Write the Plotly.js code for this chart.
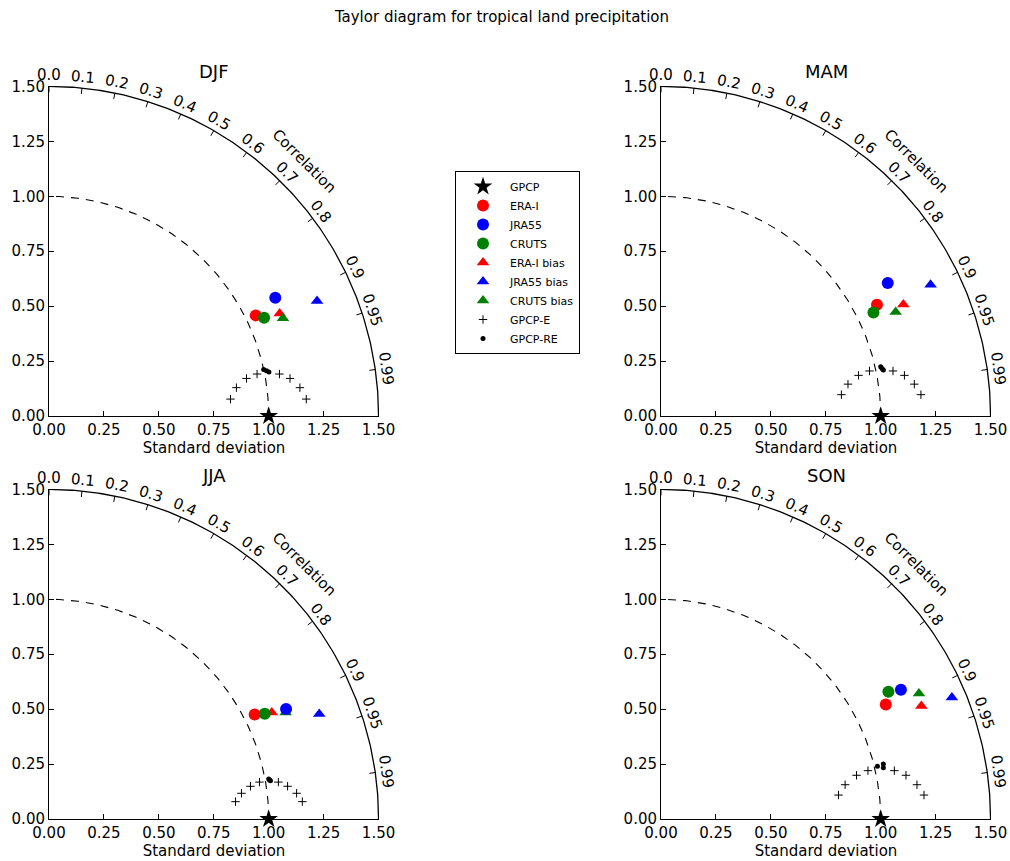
<!DOCTYPE html>
<html>
<head>
<meta charset="utf-8">
<script src="https://cdn.plot.ly/plotly-3.0.1.min.js"></script>
<style>html,body{margin:0;padding:0;background:#fff;}#chart{width:1010px;height:861px;}</style>
</head>
<body>
<div id="chart"></div>
<script>
// ---- data ----
const seasons = ['DJF', 'MAM', 'JJA', 'SON'];
const corrTicks = [0.0, 0.1, 0.2, 0.3, 0.4, 0.5, 0.6, 0.7, 0.8, 0.9, 0.95, 0.99];
const stdTicks = [0.0, 0.25, 0.5, 0.75, 1.0, 1.25, 1.5];
const refStd = 1.0;

// Cartesian positions (x = std*corr, y = std*sqrt(1-corr^2)) per season
const eraX = [0.941, 0.983, 0.936, 1.023];
const eraY = [0.458, 0.506, 0.476, 0.521];
const jraX = [1.030, 1.032, 1.079, 1.092];
const jraY = [0.538, 0.605, 0.501, 0.588];
const crutsX = [0.979, 0.967, 0.982, 1.035];
const crutsY = [0.447, 0.471, 0.479, 0.579];
const eraBiasX = [1.050, 1.103, 1.014, 1.185];
const eraBiasY = [0.467, 0.508, 0.485, 0.514];
const jraBiasX = [1.220, 1.227, 1.230, 1.324];
const jraBiasY = [0.523, 0.597, 0.478, 0.553];
const crutsBiasX = [1.065, 1.068, 1.077, 1.174];
const crutsBiasY = [0.445, 0.473, 0.485, 0.571];

const gpcpEX = [
  [0.826, 0.853, 0.899, 0.947, 1.049, 1.097, 1.142, 1.171],
  [0.821, 0.851, 0.899, 0.949, 1.056, 1.108, 1.153, 1.183],
  [0.849, 0.876, 0.917, 0.958, 1.044, 1.086, 1.127, 1.153],
  [0.808, 0.838, 0.890, 0.942, 1.062, 1.115, 1.165, 1.197]
];
const gpcpEY = [
  [0.077, 0.129, 0.171, 0.191, 0.191, 0.171, 0.129, 0.077],
  [0.097, 0.145, 0.185, 0.205, 0.205, 0.185, 0.145, 0.097],
  [0.079, 0.117, 0.149, 0.168, 0.168, 0.149, 0.117, 0.079],
  [0.109, 0.156, 0.199, 0.220, 0.220, 0.199, 0.156, 0.109]
];
const gpcpREX = [
  [0.977, 0.990, 1.001],
  [1.000, 1.006, 1.012],
  [1.000, 1.004, 1.008],
  [0.985, 1.012, 1.012]
];
const gpcpREY = [
  [0.212, 0.206, 0.200],
  [0.224, 0.216, 0.209],
  [0.182, 0.178, 0.174],
  [0.240, 0.250, 0.233]
];

// ---- layout geometry ----
const FONT = 'DejaVu Sans, sans-serif';
const xDomains = [[0.04851, 0.37525], [0.65446, 0.98119], [0.04851, 0.37525], [0.65446, 0.98119]];
const yDomains = [[0.51684, 0.90012], [0.51684, 0.90012], [0.04878, 0.43206], [0.04878, 0.43206]];
const RMAX = 1.5;
const AXMAX = 1.502;

const RED = '#ff0000', BLUE = '#0000ff', GREEN = '#008000';

function arc(r, n) {
  const xs = [], ys = [];
  for (let i = 0; i <= n; i++) {
    const t = (Math.PI / 2) * i / n;
    xs.push(r * Math.cos(t)); ys.push(r * Math.sin(t));
  }
  return {xs, ys};
}

const traces = [];
const annotations = [];
const layout = {
  width: 1010, height: 861,
  margin: {l: 0, r: 0, t: 0, b: 0},
  paper_bgcolor: '#ffffff', plot_bgcolor: 'rgba(0,0,0,0)',
  font: {family: FONT, size: 15, color: '#000'},
  title: {text: 'Taylor diagram for tropical land precipitation', x: 0.497, xanchor: 'center',
          y: 1 - 17 / 861, yanchor: 'middle', font: {family: FONT, size: 15, color: '#000'}},
  showlegend: true,
  legend: {x: 455 / 1010, xanchor: 'left', y: 1 - 171 / 861, yanchor: 'top',
           bordercolor: '#000', borderwidth: 1, bgcolor: '#fff',
           font: {family: FONT, size: 11, color: '#000'}, tracegroupgap: 0,
           itemsizing: 'trace', itemwidth: 44},
  annotations: annotations
};

seasons.forEach((s, k) => {
  const xa = k === 0 ? 'x' : 'x' + (k + 1);
  const ya = k === 0 ? 'y' : 'y' + (k + 1);
  const xk = k === 0 ? 'xaxis' : 'xaxis' + (k + 1);
  const yk = k === 0 ? 'yaxis' : 'yaxis' + (k + 1);
  const xd = xDomains[k], yd = yDomains[k];
  const px = v => xd[0] + (v / AXMAX) * (xd[1] - xd[0]);
  const py = v => yd[0] + (v / AXMAX) * (yd[1] - yd[0]);
  const axBase = {
    range: [0, AXMAX], showgrid: false, zeroline: false, showline: true,
    linecolor: '#000', linewidth: 1, mirror: false, ticks: 'inside', ticklen: 5,
    tickwidth: 1, tickcolor: '#000', tickvals: stdTicks,
    ticktext: stdTicks.map(v => v.toFixed(2)),
    tickfont: {family: FONT, size: 15, color: '#000'}, fixedrange: true
  };
  layout[xk] = Object.assign({}, axBase, {
    domain: xd, anchor: ya,
    title: {text: 'Standard deviation', font: {family: FONT, size: 15, color: '#000'}, standoff: 4}
  });
  layout[yk] = Object.assign({}, axBase, {domain: yd, anchor: xa});

  // outer arc
  const a1 = arc(RMAX, 200);
  traces.push({type: 'scatter', mode: 'lines', x: a1.xs, y: a1.ys, xaxis: xa, yaxis: ya,
    line: {color: '#000', width: 1.3}, showlegend: false, hoverinfo: 'skip'});
  // reference std dashed arc
  const a2 = arc(refStd, 200);
  traces.push({type: 'scatter', mode: 'lines', x: a2.xs, y: a2.ys, xaxis: xa, yaxis: ya,
    line: {color: '#000', width: 1.1, dash: '8px,7px'}, showlegend: false, hoverinfo: 'skip'});
  // correlation ticks
  const tx = [], ty = [];
  corrTicks.forEach(c => {
    const t = Math.acos(c);
    tx.push(RMAX * Math.cos(t), (RMAX - 0.027) * Math.cos(t), null);
    ty.push(RMAX * Math.sin(t), (RMAX - 0.027) * Math.sin(t), null);
  });
  traces.push({type: 'scatter', mode: 'lines', x: tx, y: ty, xaxis: xa, yaxis: ya,
    line: {color: '#000', width: 1}, showlegend: false, hoverinfo: 'skip'});
  // correlation tick labels (placed in paper coordinates so they sit outside the axes box)
  corrTicks.forEach(c => {
    const t = Math.acos(c);
    const rl = RMAX + 0.05;
    annotations.push({xref: 'paper', yref: 'paper', x: px(rl * Math.cos(t)), y: py(rl * Math.sin(t)),
      text: c === 0 ? '0.0' : String(c), showarrow: false, textangle: 90 - t * 180 / Math.PI,
      xanchor: 'center', yanchor: 'middle', font: {family: FONT, size: 15, color: '#000'}});
  });
  annotations.push({xref: 'paper', yref: 'paper', x: px(1.642 * Math.cos(Math.PI / 4)),
    y: py(1.642 * Math.sin(Math.PI / 4)),
    text: 'Correlation', showarrow: false, textangle: 45, xanchor: 'center', yanchor: 'middle',
    font: {family: FONT, size: 15, color: '#000'}});
  // panel title
  annotations.push({xref: 'paper', yref: 'paper', x: (xd[0] + xd[1]) / 2,
    y: k < 2 ? 1 - 72 / 861 : 1 - 475 / 861, text: s, showarrow: false,
    xanchor: 'center', yanchor: 'middle', font: {family: FONT, size: 18, color: '#000'}});

  const show = k === 0;
  const mk = (name, x, y, marker, rank) => ({
    type: 'scatter', mode: 'markers', name: name, x: x, y: y, xaxis: xa, yaxis: ya,
    marker: marker, cliponaxis: false, showlegend: show, legendgroup: name, legendrank: rank,
    hoverinfo: 'name+x+y'
  });
  traces.push(mk('GPCP-E', gpcpEX[k], gpcpEY[k],
    {symbol: 'cross-thin', size: 6, color: '#000', line: {color: '#000', width: 1}}, 8));
  traces.push(mk('GPCP-RE', gpcpREX[k], gpcpREY[k], {symbol: 'circle', size: 5, color: '#000'}, 9));
  traces.push(mk('ERA-I bias', [eraBiasX[k]], [eraBiasY[k]], {symbol: 'triangle-up', size: 11, color: RED}, 5));
  traces.push(mk('JRA55 bias', [jraBiasX[k]], [jraBiasY[k]], {symbol: 'triangle-up', size: 11, color: BLUE}, 6));
  traces.push(mk('CRUTS bias', [crutsBiasX[k]], [crutsBiasY[k]], {symbol: 'triangle-up', size: 11, color: GREEN}, 7));
  traces.push(mk('ERA-I', [eraX[k]], [eraY[k]], {symbol: 'circle', size: 12, color: RED}, 2));
  traces.push(mk('JRA55', [jraX[k]], [jraY[k]], {symbol: 'circle', size: 12, color: BLUE}, 3));
  traces.push(mk('CRUTS', [crutsX[k]], [crutsY[k]], {symbol: 'circle', size: 12, color: GREEN}, 4));
  traces.push(mk('GPCP', [refStd], [0], {symbol: 'star', size: 14, color: '#000'}, 1));
});

Plotly.newPlot('chart', traces, layout, {displayModeBar: false, staticPlot: true});
</script>
</body>
</html>
